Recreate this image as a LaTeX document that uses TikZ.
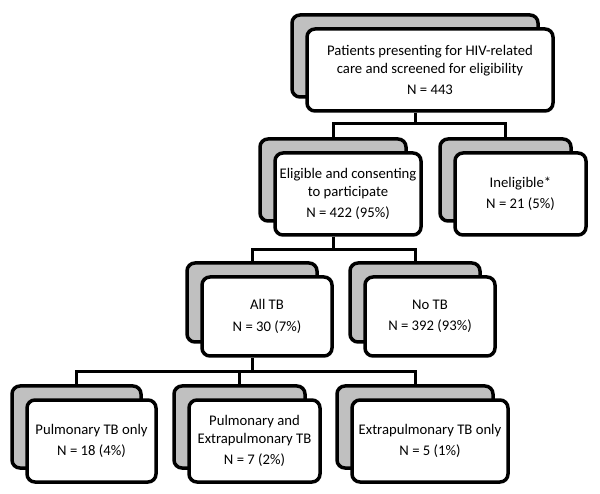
\documentclass[tikz,border=0pt]{standalone}
\usepackage{fontspec}
\setmainfont{Carlito}
\definecolor{shade}{RGB}{192,192,192}
\tikzset{
  back/.style={draw=black, line width=3.5pt, rounded corners=8pt, fill=shade, inner sep=0pt},
  front/.style={draw=black, line width=3.5pt, rounded corners=8pt, fill=white, inner sep=0pt, align=center,
    font=\fontsize{14.7}{17.5}\selectfont},
  link/.style={draw=black, line width=3pt}
}
\begin{document}
\begin{tikzpicture}[x=1pt,y=-1pt]
\useasboundingbox (0,0) rectangle (600,494);
% coordinates of the buses
\coordinate (bA) at (0,124);
\coordinate (bB) at (0,250);
\coordinate (bC) at (0,372);
% shadows
\node[back, minimum width=246pt, minimum height=82pt] (s1) at (415,56) {};
\node[back, minimum width=146pt, minimum height=82pt] (s2) at (333,180) {};
\node[back, minimum width=131pt, minimum height=82pt] (s3) at (505.5,180) {};
\node[back, minimum width=130pt, minimum height=79pt] (s4) at (252,302.5) {};
\node[back, minimum width=130pt, minimum height=79pt] (s5) at (415,302.5) {};
\node[back, minimum width=129pt, minimum height=82pt] (s6) at (76.5,427) {};
\node[back, minimum width=131pt, minimum height=82pt] (s7) at (239.5,427) {};
\node[back, minimum width=156pt, minimum height=82pt] (s8) at (415,427) {};
% fronts
\node[front, minimum width=246pt, minimum height=82pt] (f1) at (430,70)
  {Patients presenting for HIV-related\\care and screened for eligibility\\[4pt]N = 443};
\node[front, minimum width=146pt, minimum height=82pt] (f2) at (348,194)
  {Eligible and consenting\\to participate\\[4pt]N = 422 (95\%)};
\node[front, minimum width=131pt, minimum height=82pt] (f3) at (520.5,194)
  {Ineligible*\\[4pt]N = 21 (5\%)};
\node[front, minimum width=130pt, minimum height=79pt] (f4) at (267,316.5)
  {All TB\\[4pt]N = 30 (7\%)};
\node[front, minimum width=130pt, minimum height=79pt] (f5) at (430,316.5)
  {No TB\\[4pt]N = 392 (93\%)};
\node[front, minimum width=129pt, minimum height=82pt] (f6) at (91.5,441)
  {Pulmonary TB only\\[4pt]N = 18 (4\%)};
\node[front, minimum width=131pt, minimum height=82pt] (f7) at (254.5,441)
  {Pulmonary and\\Extrapulmonary TB\\[4pt]N = 7 (2\%)};
\node[front, minimum width=156pt, minimum height=82pt] (f8) at (430,441)
  {Extrapulmonary TB only\\[4pt]N = 5 (1\%)};
% connectors
\path[link] (s1.north |- f1.south) -- (s1.north |- bA);
\path[link] (s2.north) -- (s2.north |- bA) -- (s3.north |- bA) -- (s3.north);
\path[link] (s2.north |- f2.south) -- (s2.north |- bB);
\path[link] (s4.north) -- (s4.north |- bB) -- (s5.north |- bB) -- (s5.north);
\path[link] (s4.north |- f4.south) -- (s4.north |- bC);
\path[link] (s6.north) -- (s6.north |- bC) -- (s8.north |- bC) -- (s8.north);
\path[link] (s7.north |- bC) -- (s7.north);
\end{tikzpicture}
\end{document}
